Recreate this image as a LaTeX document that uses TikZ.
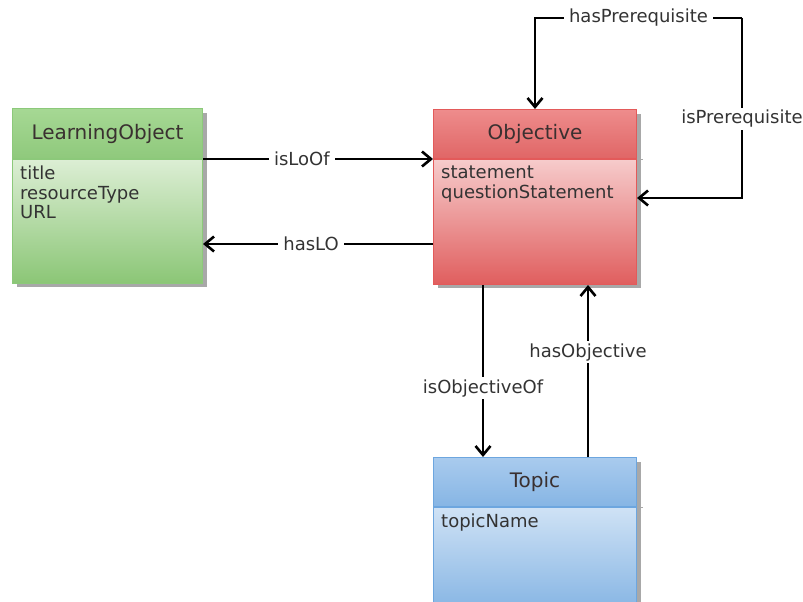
\documentclass[tikz,border=0pt]{standalone}
\usepackage{fontspec}
\setmainfont{DejaVu Sans}
\usetikzlibrary{arrows.meta,positioning}

% class colours: line, header top/bottom, body top/bottom
\definecolor{greenline}{HTML}{8CC97A}
\definecolor{greenhtop}{HTML}{A6D894}
\definecolor{greenhbot}{HTML}{8FC97C}
\definecolor{greenbtop}{HTML}{DCEED4}
\definecolor{greenbbot}{HTML}{8BC676}
\definecolor{redline}{HTML}{E35A5A}
\definecolor{redhtop}{HTML}{EE8C8C}
\definecolor{redhbot}{HTML}{E06666}
\definecolor{redbtop}{HTML}{F6CBCB}
\definecolor{redbbot}{HTML}{E05E5E}
\definecolor{blueline}{HTML}{6DA6DF}
\definecolor{bluehtop}{HTML}{A9CBEE}
\definecolor{bluehbot}{HTML}{86B5E4}
\definecolor{bluebtop}{HTML}{CFE2F5}
\definecolor{bluebbot}{HTML}{76ABE0}
\definecolor{shadowgray}{HTML}{A8A8A8}
\definecolor{headtext}{HTML}{3A3030}

\begin{document}
\begin{tikzpicture}[x=1pt,y=-1pt,
    classhead/.style={draw=#1line, line width=1pt, top color=#1htop, bottom color=#1hbot,
      minimum height=50pt, text=headtext, inner sep=0pt,
      font=\fontsize{20}{23}\selectfont},
    classbody/.style={draw=#1line, line width=1pt, top color=#1btop, bottom color=#1bbot,
      minimum height=125pt, inner sep=0pt},
    attrs/.style={anchor=north west, align=left, inner sep=2pt, text=black!80,
      font=\fontsize{18}{19.5}\selectfont},
    link/.style={draw=black, line width=2.6pt, -{Straight Barb[length=9pt,width=15pt]}},
    lbl/.style={fill=white, inner xsep=5pt, inner ysep=2pt, text=black!80,
      font=\fontsize{18}{20}\selectfont}]
  \useasboundingbox (0,0) rectangle (803,602);
  \fill[white] (0,0) rectangle (803,602);

  % shadows
  \fill[shadowgray] (17,113) rectangle (207,287);
  \fill[shadowgray] (438,114) rectangle (641,288);
  \fill[shadowgray] (438,462) rectangle (641,640);

  % LearningObject
  \node[classhead=green, minimum width=190pt, anchor=north west] (lohead) at (12,108) {LearningObject};
  \node[classbody=green, minimum width=190pt, minimum height=124pt, below=0pt of lohead] (lobody) {};
  \node[attrs] (loattrs) at ([xshift=6pt,yshift=-5pt]lobody.north west) {title\\resourceType\\URL};

  % Objective
  \node[classhead=red, minimum width=203pt, minimum height=49pt, anchor=north west] (objhead) at (433,109) {Objective};
  \node[classbody=red, minimum width=203pt, below=0pt of objhead] (objbody) {};
  \node[attrs] (objattrs) at ([xshift=6pt,yshift=-5pt]objbody.north west) {statement\\questionStatement};
  \draw[shadowgray, line width=1pt] (objhead.south east) -- ++(6,0);

  % Topic
  \node[classhead=blue, minimum width=203pt, minimum height=49pt, anchor=north west] (topichead) at (433,457) {Topic};
  \node[classbody=blue, minimum width=203pt, below=0pt of topichead] (topicbody) {};
  \node[attrs] (topicattrs) at ([xshift=6pt,yshift=-5pt]topicbody.north west) {topicName};
  \draw[shadowgray, line width=1pt] (topichead.south east) -- ++(6,0);

  % associations
  \coordinate (corner) at (742,18);
  \coordinate (haslo) at ([yshift=-22pt]objbody.west);
  \draw[link] (lohead.south east) -- node[lbl, pos=0.43] {isLoOf} (objhead.south west);
  \draw[link] (haslo) -- node[lbl, pos=0.53] {hasLO} (haslo -| lobody.east);
  \draw[link] (corner) -| node[lbl, pos=0.25] {hasPrerequisite} (objhead.north);
  \draw[link] (corner) |- node[lbl, pos=0.28] {isPrerequisite} ([yshift=24pt]objbody.east);
  \draw[link] ([xshift=-52pt]objbody.south) -- node[lbl, pos=0.6] {isObjectiveOf} ([xshift=-52pt]topichead.north);
  \draw[link] ([xshift=53pt]topichead.north) -- node[lbl, pos=0.61] {hasObjective} ([xshift=53pt]objbody.south);
\end{tikzpicture}
\end{document}
